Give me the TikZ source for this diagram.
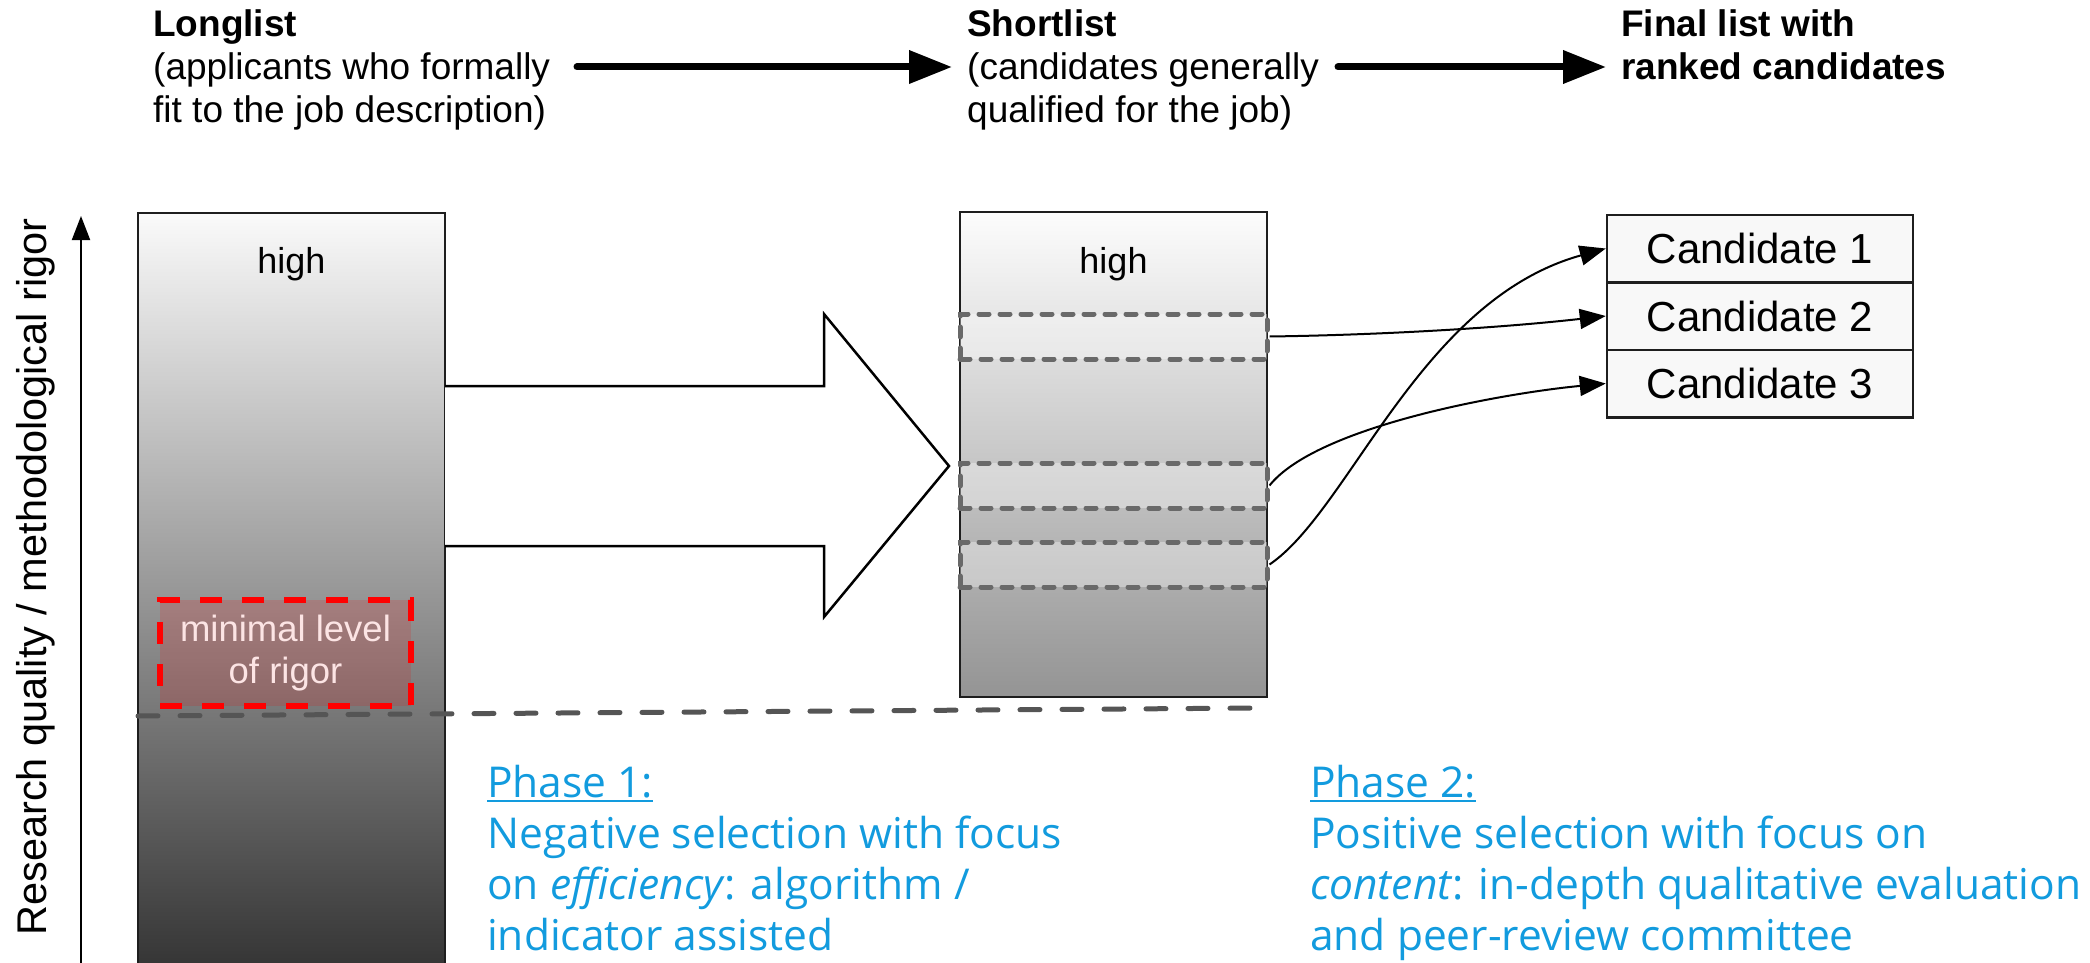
\documentclass[tikz,border=0pt]{standalone}
\usepackage{fontspec}
\setmainfont{Liberation Sans}
\newfontfamily\osans{Open Sans}
\usetikzlibrary{arrows.meta}
\definecolor{phaseblue}{RGB}{18,155,222}
\definecolor{pinktext}{RGB}{252,228,228}
\definecolor{dashgrey}{RGB}{85,85,85}
\definecolor{bandgrey}{RGB}{105,105,105}
\definecolor{boxfill}{RGB}{248,248,248}
\definecolor{edge}{RGB}{30,30,30}
% underlined heading with a rule of chosen thickness
\newcommand\phaseline[1]{\setbox0\hbox{#1}\rlap{\rule[-5pt]{\wd0}{2.5pt}}\box0}
\begin{document}
\begin{tikzpicture}[x=1pt,y=-1pt,
  head/.style={anchor=base west, inner sep=0pt, font=\fontsize{37}{43}\selectfont},
  bar/.style={draw=edge, line width=2.5pt, inner sep=0pt, minimum width=307pt},
  lvl/.style={anchor=base, inner sep=0pt, font=\fontsize{36}{40}\selectfont},
  band/.style={draw=bandgrey, line width=5pt, dash pattern=on 10pt off 11pt, line cap=round,
    fill=white, fill opacity=0.35, minimum width=307pt, minimum height=45pt, inner sep=0pt},
  cand/.style={draw=edge, line width=2.5pt, fill=boxfill, minimum width=306pt,
    minimum height=67.5pt, inner sep=0pt, font=\fontsize{42}{48}\selectfont},
  conn/.style={line width=2pt, -{Triangle[length=26pt,width=20pt]}},
  flow/.style={line width=7pt, line cap=round, -{Triangle[length=43pt,width=32pt]}},
  axis/.style={line width=2pt, -{Triangle[length=24pt,width=18pt]}},
  threshold/.style={draw=dashgrey, line width=5pt, line cap=round, dash pattern=on 20pt off 22pt},
  phase/.style={anchor=base west, inner sep=0pt, text=phaseblue, font=\osans\fontsize{42.5}{51}\selectfont},
]
\useasboundingbox (0,0) rectangle (2090,963);

% column headings
\node[head] (longlist) at (153,37) {\begin{tabular}[t]{@{}l@{}}\textbf{Longlist}\\(applicants who formally\\fit to the job description)\end{tabular}};
\node[head] (shortlist) at (967,37) {\begin{tabular}[t]{@{}l@{}}\textbf{Shortlist}\\(candidates generally\\qualified for the job)\end{tabular}};
\node[head] (finallist) at (1621,37) {\begin{tabular}[t]{@{}l@{}}\textbf{Final list with}\\\textbf{ranked candidates}\end{tabular}};

\coordinate (f1s) at (577,67);
\coordinate (f1e) at (952,67);
\coordinate (f2s) at (1338,67);
\coordinate (f2e) at (1606,67);
\draw[flow] (f1s) -- (f1e);
\draw[flow] (f2s) -- (f2e);

% quality axis
\coordinate (axbot) at (81,975);
\coordinate (axtop) at (81,216);
\draw[axis] (axbot) -- (axtop);
\node[rotate=90, anchor=base, inner sep=0pt, font=\fontsize{41.5}{48}\selectfont] (axislabel) at (46,577) {Research quality / methodological rigor};

% longlist and shortlist bars
\node[bar, minimum height=762pt, top color=white!98!black, bottom color=black!80] (longbar) at (291.5,594) {};
\node[bar, minimum height=485pt, top color=white!99!black, bottom color=black!42] (shortbar) at (1113.5,454.5) {};
\node[lvl] (longhigh) at (291.5,273) {high};
\node[lvl] (shorthigh) at (1113.5,273) {high};

% selected ranges on the shortlist
\node[band] (b1) at (1113.5,336.5) {};
\node[band] (b2) at (1113.5,485.5) {};
\node[band] (b3) at (1113.5,564.5) {};

% block arrow from longlist to shortlist
\draw[line width=2.5pt, fill=white, line join=miter]
  (445,386) -- (824,386) -- (824,314) -- (949,466) -- (824,617) -- (824,546) -- (445,546);

% minimal rigor threshold
\coordinate (thr0) at (138,716);
\coordinate (thr1) at (1262,708);
\draw[threshold] (thr0) -- (thr1);
\node[draw=red, line width=5.5pt, dash pattern=on 22pt off 20pt, fill=red, fill opacity=0.15, text opacity=1,
  minimum width=251pt, minimum height=106pt, inner sep=0pt, text=pinktext, align=center,
  font=\fontsize{36.5}{42}\selectfont] (minbox) at (285.5,653) {minimal level\\of rigor};

% ranked candidates
\node[cand] (c1) at (1760,248.5) {Candidate 1};
\node[cand] (c2) at (1760,316) {Candidate 2};
\node[cand] (c3) at (1760,383.5) {Candidate 3};

\draw[conn] (b1.east) .. controls (1380,335) and (1500,328) .. (c2.west);
\draw[conn] (b2.east) .. controls (1317,426) and (1505,393) .. (c3.west);
\draw[conn] (b3.east) .. controls (1350,510) and (1420,300) .. (c1.west);

% phase descriptions
\node[phase] (phase1) at (487,797) {\begin{tabular}[t]{@{}l@{}}\phaseline{Phase 1:}\\Negative selection with focus\\on \textit{efficiency}: algorithm /\\indicator assisted\end{tabular}};
\node[phase] (phase2) at (1310,797) {\begin{tabular}[t]{@{}l@{}}\phaseline{Phase 2:}\\Positive selection with focus on\\\textit{content}: in-depth qualitative evaluation\\and peer-review committee\end{tabular}};
\end{tikzpicture}
\end{document}
